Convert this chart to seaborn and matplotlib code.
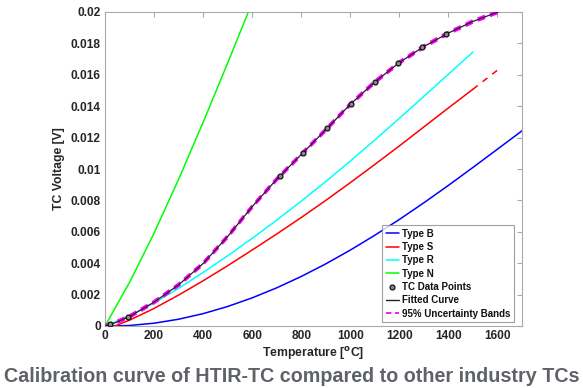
import matplotlib
matplotlib.use("Agg")
import matplotlib.pyplot as plt
import seaborn as sns
import pandas as pd
from matplotlib.ticker import FixedLocator, FuncFormatter

sns.set_style("white")
plt.rcParams["font.family"] = ["Liberation Sans", "DejaVu Sans"]

# Industry thermocouple reference curves (temperature in degC, voltage in V)
temp_b = [30, 100, 200, 300, 400, 500, 600, 700, 800, 900, 1000, 1100, 1200,
          1300, 1400, 1500, 1600, 1700]
volt_b = [0.0, 0.000033, 0.000178, 0.000431, 0.000787, 0.001242, 0.001792,
          0.002431, 0.003154, 0.003957, 0.004834, 0.005780, 0.006786,
          0.007848, 0.008956, 0.010099, 0.011263, 0.012433]

temp_s = [40, 100, 200, 300, 400, 500, 600, 700, 800, 900, 1000, 1100, 1200,
          1300, 1400, 1500]
volt_s = [0.0, 0.00037, 0.00112, 0.00197, 0.00288, 0.00384, 0.00484, 0.00586,
          0.00691, 0.00800, 0.00913, 0.01029, 0.01147, 0.01268, 0.01389,
          0.01508]
temp_s_ext = [1500, 1610]
volt_s_ext = [0.01508, 0.01642]

temp_r = [0, 100, 200, 300, 400, 500, 600, 700, 800, 900, 1000, 1100, 1200,
          1300, 1400, 1500]
volt_r = [0.0, 0.000647, 0.001469, 0.002401, 0.003408, 0.004471, 0.005583,
          0.006743, 0.007950, 0.009205, 0.010506, 0.011850, 0.013228,
          0.014629, 0.016040, 0.017451]

temp_n = [0, 100, 200, 300, 400, 500, 600]
volt_n = [0.0, 0.002774, 0.005913, 0.009341, 0.012974, 0.016748, 0.020613]

# HTIR-TC measurements and calibration fit
temp_pts = [20, 95, 713, 806, 904, 1003, 1099, 1194, 1292, 1389]
volt_pts = [0.0001, 0.0006, 0.00955, 0.01104, 0.01263, 0.01416, 0.01554,
            0.01675, 0.01777, 0.01862]

temp_fit = [0, 25, 100, 200, 300, 400, 500, 600, 700, 800, 900, 1000, 1100,
            1200, 1300, 1400, 1500, 1610]
volt_fit = [0.0, 0.00010, 0.00060, 0.00152, 0.00262, 0.00398, 0.00570,
            0.00760, 0.00935, 0.01092, 0.01250, 0.01412, 0.01554, 0.01678,
            0.01780, 0.01866, 0.01940, 0.02005]
volt_band_hi = [0.00006, 0.00016, 0.00066, 0.00158, 0.00268, 0.00404,
                0.00576, 0.00766, 0.00941, 0.01098, 0.01256, 0.01418,
                0.01560, 0.01684, 0.01786, 0.01872, 0.01946, 0.02011]
volt_band_lo = [-0.00006, 0.00004, 0.00054, 0.00146, 0.00256, 0.00392,
                0.00564, 0.00754, 0.00929, 0.01086, 0.01244, 0.01406,
                0.01548, 0.01672, 0.01774, 0.01860, 0.01934, 0.01999]

x_ticks = [0, 200, 400, 600, 800, 1000, 1200, 1400, 1600]
y_ticks = [0, 0.002, 0.004, 0.006, 0.008, 0.01, 0.012, 0.014, 0.016, 0.018, 0.02]

fig = plt.figure(figsize=(5.83, 3.88), dpi=100)
ax = fig.add_axes([105 / 583, 62 / 388, 417 / 583, 314 / 388])

def draw(t, v, **kw):
    df = pd.DataFrame({"T": t, "V": v})
    sns.lineplot(data=df, x="T", y="V", ax=ax, sort=False, estimator=None, **kw)

draw(temp_b, volt_b, color="#0000ff", lw=1.1, label="Type B")
draw(temp_s, volt_s, color="#ff0000", lw=1.1, label="Type S")
draw(temp_r, volt_r, color="#00ffff", lw=1.1, label="Type R")
draw(temp_n, volt_n, color="#00ff00", lw=1.1, label="Type N")
draw(temp_s_ext, volt_s_ext, color="#ff0000", lw=1.1, linestyle=(0, (4, 4)))

ax.plot(temp_pts, volt_pts, linestyle="none", marker="o", ms=3.5, mew=0.9,
        mec="#111111", mfc="#8a8a8a", zorder=6, label="TC Data Points")
ax.plot([], [], color="#222222", lw=1.0, label="Fitted Curve")
ax.plot([], [], color="#ff00ff", lw=1.3, linestyle=(0, (3, 2)),
        label="95% Uncertainty Bands")

draw(temp_fit, volt_band_hi, color="#ff00ff", lw=1.9, linestyle=(0, (3, 2)),
     zorder=4)
draw(temp_fit, volt_band_lo, color="#ff00ff", lw=1.9, linestyle=(0, (3, 2)),
     zorder=4)
draw(temp_fit, volt_fit, color="#222222", lw=0.9, zorder=5)

ax.set_xlim(0, 1700)
ax.set_ylim(0, 0.02)
ax.xaxis.set_major_locator(FixedLocator(x_ticks))
ax.yaxis.set_major_locator(FixedLocator(y_ticks))
ax.yaxis.set_major_formatter(FuncFormatter(lambda v, p: f"{v:g}"))
ax.tick_params(direction="in", length=3.5, width=0.8, color="#aaaaaa",
               top=True, right=True, labelsize=8.6, labelcolor="#262626", pad=3)
for lab in ax.get_xticklabels() + ax.get_yticklabels():
    lab.set_fontweight("bold")
for sp in ax.spines.values():
    sp.set_color("#aaaaaa")
    sp.set_linewidth(0.8)

ax.set_xlabel("Temperature [$\\mathbf{^{o}}$C]", fontsize=8.8,
              fontweight="bold", color="#262626", labelpad=2)
ax.set_ylabel("TC Voltage [V]", fontsize=8.8, fontweight="bold",
              color="#262626", labelpad=4)

handles, labels = ax.get_legend_handles_labels()
leg = ax.legend(handles, labels, loc="lower right", fontsize=7.0,
                frameon=True, fancybox=False, borderpad=0.35,
                labelspacing=0.34, handlelength=1.4, handletextpad=0.3,
                borderaxespad=0.4, bbox_to_anchor=(0.99, 0.0))
leg.get_frame().set_edgecolor("#888888")
leg.get_frame().set_linewidth(0.8)
for t in leg.get_texts():
    t.set_fontweight("bold")
    t.set_color("#111111")

title = fig.text(0.5, 12 / 388, "Calibration curve of HTIR-TC compared to other industry TCs",
                 ha="center", va="center", fontsize=14.5, fontweight="bold",
                 color="#5f6368")
fig.canvas.draw()
w = title.get_window_extent().width
title.set_fontsize(14.5 * 576 / w)

fig.savefig("out.png", dpi=100)
